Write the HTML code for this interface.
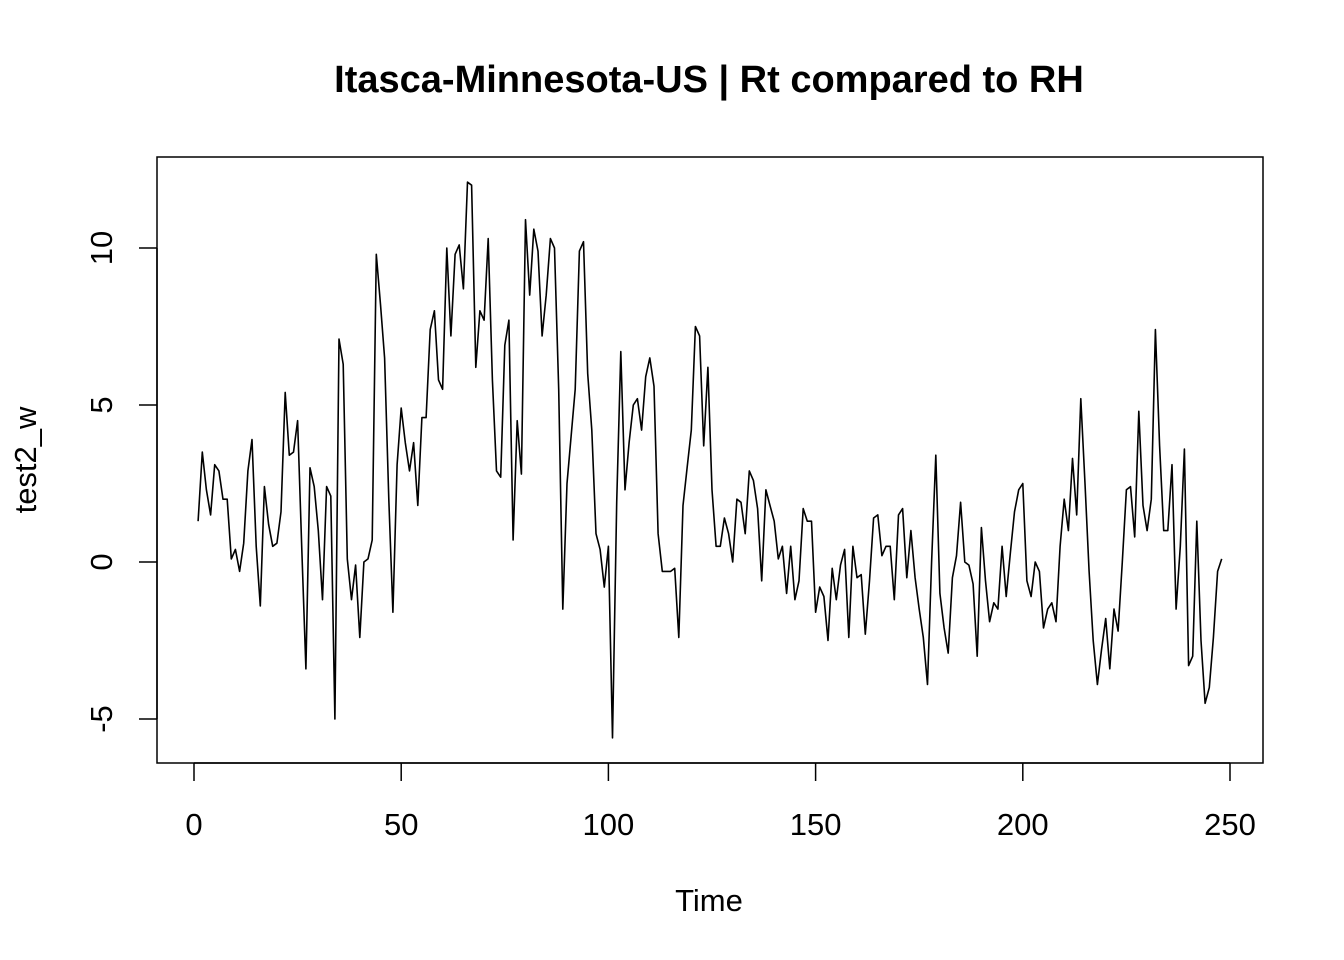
<!DOCTYPE html>
<html><head><meta charset="utf-8"><style>
html,body{margin:0;padding:0;background:#fff;}
svg{display:block;font-family:"Liberation Sans",Arial,sans-serif;}
</style></head><body>
<svg id="chart" width="1344" height="960">
<rect width="1344" height="960" fill="#fff"/>
<text x="709" y="92" text-anchor="middle" font-size="38" font-weight="bold">Itasca-Minnesota-US | Rt compared to RH</text>
<rect x="157" y="157" width="1106" height="606" fill="none" stroke="#000" stroke-width="1.5"/>
<text x="709" y="911" text-anchor="middle" font-size="31">Time</text>
<text transform="translate(36,460) rotate(-90)" text-anchor="middle" font-size="31">test2_w</text>
<g id="axes"></g>
<polyline id="series" fill="none" stroke="#000" stroke-width="1.6" stroke-linejoin="round"/>
</svg>
<script>
const xTicks=[0,50,100,150,200,250];
const yTicks=[-5,0,5,10];
const values=[1.3,3.5,2.3,1.5,3.1,2.9,2.0,2.0,0.1,0.4,-0.3,0.6,2.9,3.9,0.5,-1.4,2.4,1.2,0.5,0.6,1.6,5.4,3.4,3.5,4.5,0.5,-3.4,3.0,2.4,1.0,-1.2,2.4,2.1,-5.0,7.1,6.3,0.1,-1.2,-0.1,-2.4,0.0,0.1,0.7,9.8,8.2,6.5,2.0,-1.6,3.1,4.9,3.8,2.9,3.8,1.8,4.6,4.6,7.4,8.0,5.8,5.5,10.0,7.2,9.8,10.1,8.7,12.1,12.0,6.2,8.0,7.7,10.3,5.8,2.9,2.7,6.9,7.7,0.7,4.5,2.8,10.9,8.5,10.6,9.9,7.2,8.5,10.3,10.0,5.5,-1.5,2.5,4.0,5.5,9.9,10.2,6.0,4.2,0.9,0.4,-0.8,0.5,-5.6,1.9,6.7,2.3,3.8,5.0,5.2,4.2,5.9,6.5,5.6,0.9,-0.3,-0.3,-0.3,-0.2,-2.4,1.8,3.0,4.2,7.5,7.2,3.7,6.2,2.3,0.5,0.5,1.4,0.9,0.0,2.0,1.9,0.9,2.9,2.6,1.7,-0.6,2.3,1.8,1.3,0.1,0.5,-1.0,0.5,-1.2,-0.6,1.7,1.3,1.3,-1.6,-0.8,-1.1,-2.5,-0.2,-1.2,-0.1,0.4,-2.4,0.5,-0.5,-0.4,-2.3,-0.6,1.4,1.5,0.2,0.5,0.5,-1.2,1.5,1.7,-0.5,1.0,-0.5,-1.5,-2.4,-3.9,0.0,3.4,-1.0,-2.1,-2.9,-0.5,0.2,1.9,0.0,-0.1,-0.7,-3.0,1.1,-0.6,-1.9,-1.3,-1.5,0.5,-1.1,0.3,1.6,2.3,2.5,-0.6,-1.1,0.0,-0.3,-2.1,-1.5,-1.3,-1.9,0.5,2.0,1.0,3.3,1.5,5.2,2.5,-0.3,-2.5,-3.9,-2.8,-1.8,-3.4,-1.5,-2.2,0.0,2.3,2.4,0.8,4.8,1.8,1.0,2.0,7.4,3.7,1.0,1.0,3.1,-1.5,0.5,3.6,-3.3,-3.0,1.3,-2.5,-4.5,-4.0,-2.4,-0.3,0.1];
const NS='http://www.w3.org/2000/svg';
function xs(t){return 194+t*(1230-194)/250;}
function ys(v){return 562-v*31.4;}
const g=document.getElementById('axes');
function mk(tag,attrs){const e=document.createElementNS(NS,tag);for(const k in attrs)e.setAttribute(k,attrs[k]);return e;}
const xa=mk('line',{x1:xs(0),x2:xs(250),y1:763,y2:763,stroke:'#000','stroke-width':1.5});


g.appendChild(xa);
xTicks.forEach(t=>{
 const l=mk('line',{x1:xs(t),x2:xs(t),y1:763,y2:781,stroke:'#000','stroke-width':1.5});
 
 
 g.appendChild(l);
 const tx=mk('text',{x:xs(t),y:835,'text-anchor':'middle','font-size':31});
 
 
 tx.textContent=t;g.appendChild(tx);
});
const ya=mk('line',{x1:157,x2:157,y1:ys(-5),y2:ys(10),stroke:'#000','stroke-width':1.5});


g.appendChild(ya);
yTicks.forEach(t=>{
 const l=mk('line',{x1:139,x2:157,y1:ys(t),y2:ys(t),stroke:'#000','stroke-width':1.5});
 
 
 g.appendChild(l);
 const tx=mk('text',{transform:`translate(112,${ys(t)}) rotate(-90)`,'text-anchor':'middle','font-size':31});
 
 
 tx.textContent=t;g.appendChild(tx);
});
document.getElementById('series').setAttribute('points',values.map((v,i)=>xs(i+1).toFixed(1)+','+ys(v).toFixed(1)).join(' '));
</script>
</body></html>
